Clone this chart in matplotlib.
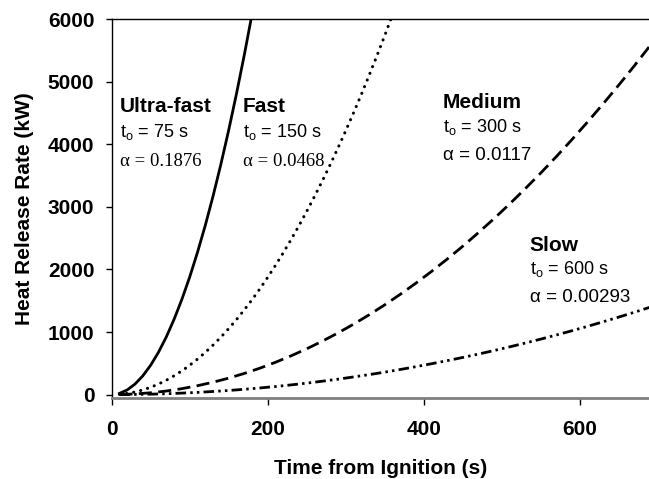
import matplotlib
matplotlib.use("Agg")
import matplotlib.pyplot as plt

plt.rcParams['font.family'] = ['Liberation Sans', 'DejaVu Sans']
plt.rcParams['mathtext.fontset'] = 'custom'
plt.rcParams['mathtext.rm'] = 'Liberation Sans'
plt.rcParams['mathtext.it'] = 'Liberation Sans:italic'

# ---- data (heat release rate, kW) ----
t_ultra = [10, 20, 30, 40, 50, 60, 70, 80, 90, 100, 110, 120, 130, 140, 150, 160, 170, 180]
q_ultra = [19, 75, 169, 300, 469, 675, 919, 1201, 1520, 1876, 2270, 2701, 3170, 3677, 4221, 4803, 5422, 6078]

t_fast = [10, 20, 30, 40, 50, 60, 70, 80, 90, 100, 110, 120, 130, 140, 150, 160, 170, 180,
          190, 200, 210, 220, 230, 240, 250, 260, 270, 280, 290, 300, 310, 320, 330, 340, 350, 360]
q_fast = [5, 19, 42, 75, 117, 168, 229, 300, 379, 468, 566, 674, 791, 917, 1053, 1198, 1353, 1516,
          1689, 1872, 2064, 2265, 2476, 2696, 2925, 3164, 3412, 3669, 3936, 4212, 4497, 4792, 5097, 5410, 5733, 6065]

t_medium = [10, 30, 50, 70, 90, 110, 130, 150, 170, 190, 210, 230, 250, 270, 290, 310, 330, 350,
            370, 390, 410, 430, 450, 470, 490, 510, 530, 550, 570, 590, 610, 630, 650, 670, 690]
q_medium = [1, 11, 29, 57, 95, 142, 198, 263, 338, 422, 516, 619, 731, 853, 984, 1124, 1274, 1433,
            1602, 1780, 1967, 2163, 2369, 2585, 2809, 3043, 3287, 3539, 3801, 4073, 4354, 4644, 4943, 5252, 5570]

t_slow = t_medium
q_slow = [0, 3, 7, 14, 24, 35, 50, 66, 85, 106, 129, 155, 183, 214, 246, 282, 319, 359,
          401, 446, 493, 542, 593, 647, 703, 762, 823, 886, 952, 1020, 1090, 1163, 1238, 1315, 1395]

x_ticks = [0, 200, 400, 600]
y_ticks = [0, 1000, 2000, 3000, 4000, 5000, 6000]

labels = ["Ultra-fast", "Fast", "Medium", "Slow"]
t_o = [75, 150, 300, 600]
alphas = ["0.1876", "0.0468", "0.0117", "0.00293"]

# ---- figure ----
fig = plt.figure(figsize=(6.49, 4.79), dpi=100)
ax = fig.add_axes([0.172, 0.169, 0.828, 0.791])

lw = 2.0
ax.plot(t_ultra, q_ultra, color='black', lw=lw, linestyle='-')
ax.plot(t_fast, q_fast, color='black', lw=2.2, linestyle=(0, (0.05, 2.3)), dash_capstyle='round')
ax.plot(t_medium, q_medium, color='black', lw=lw, linestyle=(0, (4.7, 2.3)))
ax.plot(t_slow, q_slow, color='black', lw=lw, linestyle=(0, (3.8, 1.5, 0.9, 1.5, 0.9, 1.5)))

ax.set_xlim(0, 689)
ax.set_ylim(-55, 6000)
ax.set_xticks(x_ticks)
ax.set_yticks(y_ticks)

ax.spines['right'].set_visible(False)
ax.spines['top'].set_linewidth(1.0)
ax.spines['left'].set_linewidth(1.0)
ax.spines['bottom'].set_color('#808080')
ax.spines['bottom'].set_linewidth(2.0)

ax.tick_params(axis='x', direction='out', length=5, width=1.0, pad=11, labelsize=15, colors='black')
ax.tick_params(axis='y', direction='out', length=4.5, width=1.0, pad=8, labelsize=15)
for lab in ax.get_xticklabels() + ax.get_yticklabels():
    lab.set_fontweight('bold')

ax.set_xlabel("Time from Ignition (s)", fontsize=15, fontweight='bold', labelpad=14)
ax.set_ylabel("Heat Release Rate (kW)", fontsize=15, fontweight='bold', labelpad=10)

# ---- annotations ----
x_pos = [10.6, 168, 425, 536]
y_title = [4512, 4512, 4575, 2295]
y_to = [4116, 4116, 4195, 1931]
y_alpha = [3657, 3657, 3752, 1472]
alpha_family = [['Liberation Serif'], ['Liberation Serif'], ['Liberation Sans'], ['Liberation Sans']]

for i in range(4):
    ax.text(x_pos[i], y_title[i], labels[i], fontsize=15, fontweight='bold', va='baseline', ha='left')
    ax.text(x_pos[i], y_to[i], r"t$_{\mathrm{o}}$ = %d s" % t_o[i], fontsize=13, va='baseline', ha='left')
    ax.text(x_pos[i], y_alpha[i], "\u03b1 = " + alphas[i], fontsize=13.5, va='baseline', ha='left',
            family=alpha_family[i])

fig.savefig("out.png", dpi=100)
